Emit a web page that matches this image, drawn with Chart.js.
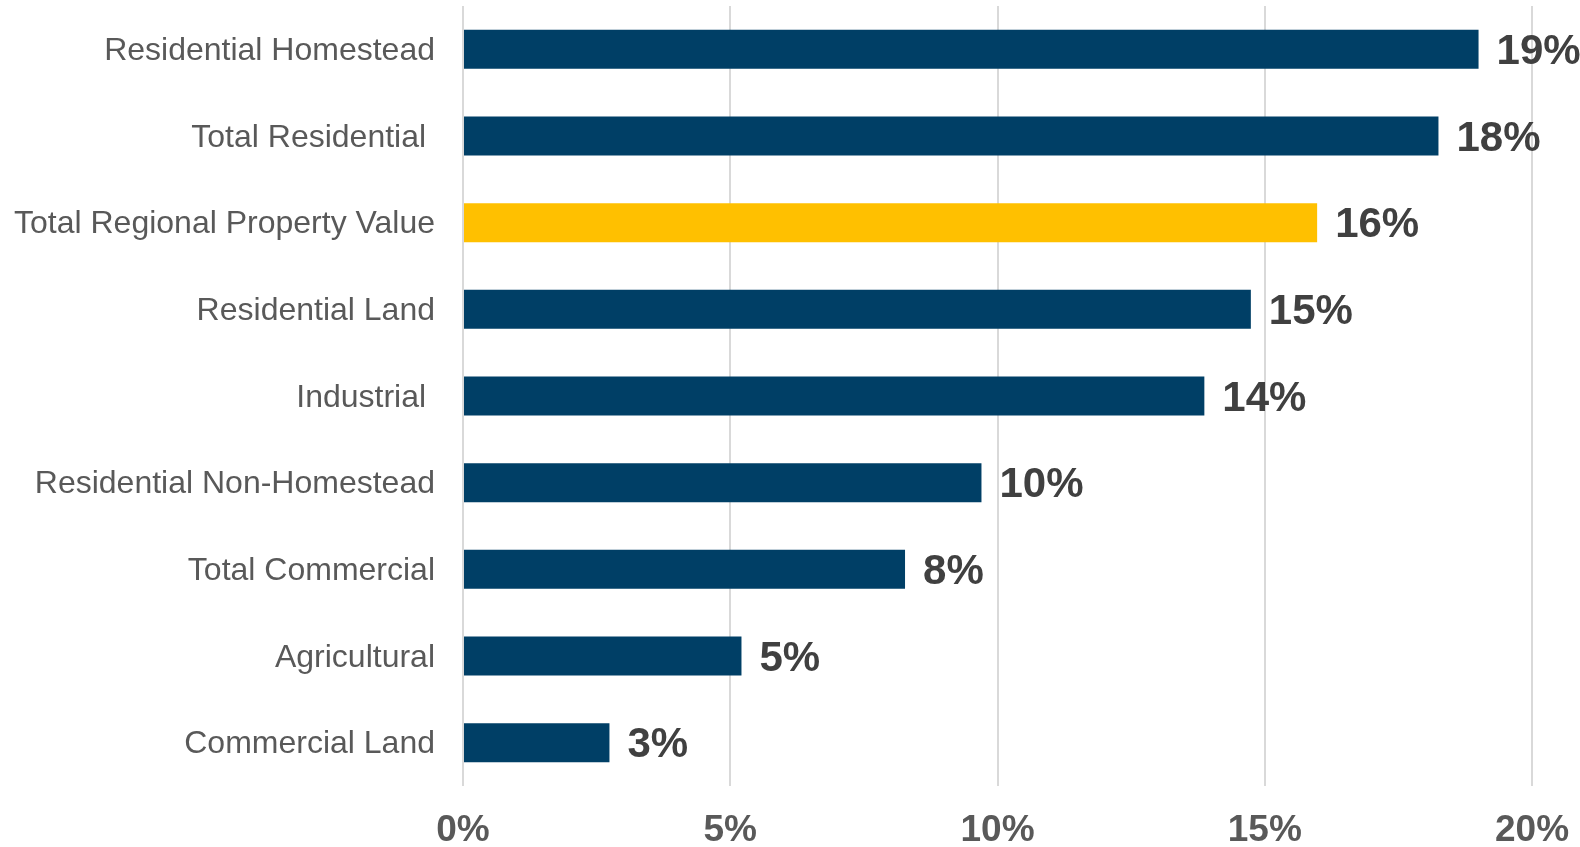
<!DOCTYPE html>
<html>
<head>
<meta charset="utf-8">
<title>Property value growth by class</title>
<script src="https://cdn.jsdelivr.net/npm/chart.js@4/dist/chart.umd.min.js"></script>
<style>
  html, body { margin: 0; padding: 0; background: #ffffff; }
  #wrap { width: 1580px; height: 847px; position: relative; }
</style>
</head>
<body>
<div id="wrap"><canvas id="chart"></canvas></div>
<script>
// Property classes, top to bottom
const categories = [
  'Residential Homestead',
  'Total Residential ',
  'Total Regional Property Value',
  'Residential Land',
  'Industrial ',
  'Residential Non-Homestead',
  'Total Commercial',
  'Agricultural',
  'Commercial Land'
];

// Percent change for each class
const shares = [19.0, 18.25, 15.98, 14.74, 13.87, 9.70, 8.27, 5.21, 2.74];

// The regional total is highlighted in gold
const barColors = [
  '#003f66', '#003f66', '#ffc000', '#003f66', '#003f66',
  '#003f66', '#003f66', '#003f66', '#003f66'
];

// Value axis ticks (percent)
const xTicks = [0, 5, 10, 15, 20];

const FONT = '"Liberation Sans", Arial, Helvetica, sans-serif';

// Keep tick labels from pushing the plot area inward; the layout padding
// alone decides where the plot area sits.
function clearScalePadding(scale) {
  scale.paddingTop = 0;
  scale.paddingBottom = 0;
  scale.paddingLeft = 0;
  scale.paddingRight = 0;
}

// Writes the rounded percentage just past the end of each bar
const barValueLabels = {
  id: 'barValueLabels',
  afterDatasetsDraw(chart) {
    const ctx = chart.ctx;
    const meta = chart.getDatasetMeta(0);
    const values = chart.data.datasets[0].data;
    ctx.save();
    ctx.font = 'bold 42px ' + FONT;
    ctx.fillStyle = '#404040';
    ctx.textAlign = 'left';
    ctx.textBaseline = 'middle';
    meta.data.forEach((bar, i) => {
      ctx.fillText(Math.round(values[i]) + '%', bar.x + 18, bar.y + 3);
    });
    ctx.restore();
  }
};

new Chart(document.getElementById('chart'), {
  type: 'bar',
  data: {
    labels: categories,
    datasets: [{
      data: shares,
      backgroundColor: barColors,
      borderWidth: 0,
      barPercentage: 0.45,
      categoryPercentage: 1.0
    }]
  },
  options: {
    indexAxis: 'y',
    responsive: true,
    maintainAspectRatio: false,
    animation: false,
    layout: { padding: { top: 6, right: 48, bottom: 0, left: 0 } },
    plugins: {
      legend: { display: false },
      tooltip: { enabled: false },
      title: { display: false }
    },
    scales: {
      x: {
        type: 'linear',
        min: xTicks[0],
        max: xTicks[xTicks.length - 1],
        afterBuildTicks(scale) {
          scale.ticks = xTicks.map(v => ({ value: v }));
        },
        afterFit(scale) {
          scale.height = 61;
          clearScalePadding(scale);
        },
        ticks: {
          callback: v => v + '%',
          color: '#595959',
          font: { family: FONT, size: 37, weight: 'bold' },
          padding: 23,
          maxRotation: 0
        },
        grid: {
          color: '#d9d9d9',
          lineWidth: 2,
          drawTicks: false
        },
        border: { display: false }
      },
      y: {
        afterFit(scale) {
          scale.width = 463;
          clearScalePadding(scale);
        },
        ticks: {
          color: '#595959',
          font: { family: FONT, size: 32 },
          padding: 28,
          labelOffset: 2
        },
        grid: { display: false, drawTicks: false },
        border: { display: false }
      }
    }
  },
  plugins: [barValueLabels]
});
</script>
</body>
</html>
